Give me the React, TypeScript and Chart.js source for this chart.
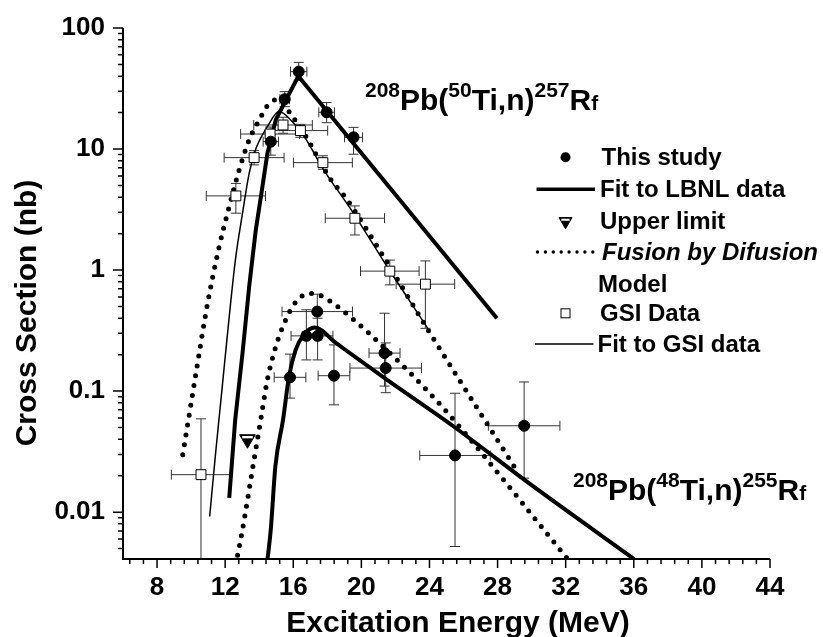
import React, { useEffect, useRef } from 'react';
import { Chart, registerables } from 'chart.js';

Chart.register(...registerables);

const FONT = '"Liberation Sans", Arial, Helvetica, sans-serif';

// ---------- This study (LBNL) : filled circles ----------
const studyX = [14.68, 15.5, 16.32, 17.96, 19.54, 15.81, 16.77, 17.43, 17.41, 18.39, 21.36, 21.43, 25.5, 29.56];
const studyY = [11.5, 25.8, 43.6, 20.1, 12.5, 0.13, 0.286, 0.286, 0.454, 0.134, 0.206, 0.155, 0.0294, 0.0517];
const studyXErr = [0.45, 0.28, 0.48, 0.46, 0.53, 0.93, 0.9, 0.9, 2.07, 0.93, 0.91, 2.1, 2.07, 2.1];
const studyYLow = [8.9, 22.4, 37, 16.5, 9.06, 0.0875, 0.181, 0.181, 0.3, 0.077, 0.11, 0.097, 0.0052, 0.0191];
const studyYHigh = [13.1, 29.8, 52, 24.2, 15.1, 0.202, 0.47, 0.4, 0.632, 0.241, 0.44, 0.25, 0.096, 0.119];

// ---------- Upper limit ----------
const upperLimitX = [13.31];
const upperLimitY = [0.04];

// ---------- GSI data : open squares ----------
const gsiX = [10.58, 12.63, 13.7, 14.64, 15.4, 16.42, 17.74, 19.62, 21.67, 23.76];
const gsiY = [0.0204, 4.1, 8.49, 13.3, 15.8, 14.2, 7.72, 2.68, 0.98, 0.765];
const gsiXErr = [1.74, 1.74, 1.76, 1.73, 1.72, 1.6, 1.73, 1.74, 1.72, 1.72];
const gsiYLow = [0.003, 2.95, 7.4, 11.6, 13.5, 12.5, 6.8, 1.95, 0.755, 0.33];
const gsiYHigh = [0.059, 5.2, 9.7, 15.2, 18.3, 16, 8.8, 3.39, 1.21, 1.19];

// ---------- Fit to LBNL data, 208Pb(50Ti,n)257Rf ----------
const lbnl50X = [12.24, 12.59, 13.02, 13.41, 13.8, 14.19, 14.48, 14.97, 15.52, 16.3, 27.96];
const lbnl50Y = [0.0131, 0.058, 0.206, 0.73, 2.15, 4.9, 9.2, 17.4, 24.6, 40, 0.4];

// ---------- Fit to LBNL data, 208Pb(48Ti,n)255Rf ----------
const lbnl48X = [14.49, 14.68, 14.95, 15.4, 15.75, 16.14, 16.6, 17.26, 18.5, 21.43, 25.42, 30, 36.02];
const lbnl48Y = [0.0041, 0.0072, 0.024, 0.058, 0.132, 0.219, 0.29, 0.335, 0.25, 0.126, 0.051, 0.0167, 0.0041];

// ---------- Fit to GSI data ----------
const gsiFitX = [11.09, 11.44, 11.83, 12.22, 12.6, 13.02, 13.41, 13.8, 14.48, 15.16, 15.85, 16.63, 17.74, 19.5, 21.51, 23.9];
const gsiFitY = [0.0092, 0.0308, 0.109, 0.388, 1.21, 2.95, 6.3, 10, 15.3, 20.4, 17.4, 12.8, 6.9, 3.0, 1.07, 0.33];

// ---------- Fusion by Diffusion model, 50Ti ----------
const fbd50X = [9.51, 10.19, 10.97, 11.65, 12.24, 12.82, 13.41, 14.0, 14.5, 15.0, 15.45, 15.84, 16.52, 17.36, 18.09, 19.17, 21.12, 23.86, 29.22];
const fbd50Y = [0.0298, 0.116, 0.533, 1.56, 3.35, 6.7, 11.9, 17.4, 23, 25.5, 23.6, 19.5, 14.4, 8.9, 5.9, 3.8, 1.42, 0.33, 0.021];

// ---------- Fusion by Diffusion model, 48Ti ----------
const fbd48X = [12.73, 13.02, 13.6, 14.09, 14.48, 14.97, 15.56, 16.1, 16.92, 17.41, 17.8, 18.68, 19.56, 20.44, 22.29, 23.07, 24.83, 26.59, 32.05];
const fbd48Y = [0.0044, 0.0072, 0.0224, 0.058, 0.124, 0.233, 0.388, 0.533, 0.64, 0.63, 0.597, 0.49, 0.388, 0.301, 0.17, 0.132, 0.072, 0.037, 0.0042];

// ---------- Axes ----------
const xMin = 6;
const xMax = 44;
const xMajorTicks = [8, 12, 16, 20, 24, 28, 32, 36, 40, 44];
const yMin = 0.0041;
const yMax = 100;
const yMajorTicks = [0.01, 0.1, 1, 10, 100];
const yTickLabels = ['0.01', '0.1', '1', '10', '100'];

const xTitle = 'Excitation Energy (MeV)';
const yTitle = 'Cross Section (nb)';

const reaction50 = ['208', 'Pb(', '50', 'Ti,n)', '257', 'R', 'f'];
const reaction48 = ['208', 'Pb(', '48', 'Ti,n)', '255', 'R', 'f'];
const reactionKinds = ['sup', 'main', 'sup', 'main', 'sup', 'main', 'small'];

const legendLabels = ['This study', 'Fit to LBNL data', 'Upper limit', 'Fusion by Difusion', 'Model', 'GSI Data', 'Fit to GSI data'];

function buildXTicks(): number[] {
  const out: number[] = [];
  for (let k = 32; k <= 220; k += 4) out.push(k / 5);
  return out;
}
function buildYTicks(): number[] {
  const out: number[] = [];
  for (let e = -3; e <= 2; e++) {
    for (let m = 1; m <= 9; m++) {
      const v = parseFloat((m * Math.pow(10, e)).toPrecision(6));
      if (v >= yMin && v <= yMax) out.push(v);
    }
  }
  return out;
}
const isXMajor = (v: number) => xMajorTicks.some((t) => Math.abs(t - v) < 1e-6);
const yMajorIndex = (v: number) => yMajorTicks.findIndex((t) => Math.abs(Math.log10(t) - Math.log10(v)) < 1e-6);

const pts = (xs: number[], ys: number[]) => xs.map((x, i) => ({ x, y: ys[i] }));

function drawRich(ctx: CanvasRenderingContext2D, x: number, y: number, texts: string[]) {
  let cx = x;
  texts.forEach((t, i) => {
    const kind = reactionKinds[i];
    const size = kind === 'main' ? 30 : 21;
    const dy = kind === 'sup' ? -13 : 0;
    ctx.font = `bold ${size}px ${FONT}`;
    ctx.fillText(t, cx, y + dy);
    cx += ctx.measureText(t).width;
  });
}

const overlayPlugin = {
  id: 'overlay',
  beforeDatasetsDraw(chart: any) {
    const { ctx, chartArea: a, scales } = chart;
    const xs = scales.x;
    const ys = scales.y;
    ctx.save();
    ctx.beginPath();
    ctx.rect(a.left, a.top, a.right - a.left, a.bottom - a.top);
    ctx.clip();
    ctx.strokeStyle = '#333';
    ctx.lineWidth = 1;
    const bars = (X: number[], Y: number[], XE: number[], YL: number[], YH: number[]) => {
      for (let i = 0; i < X.length; i++) {
        const px = xs.getPixelForValue(X[i]);
        const py = ys.getPixelForValue(Y[i]);
        const pl = xs.getPixelForValue(X[i] - XE[i]);
        const pr = xs.getPixelForValue(X[i] + XE[i]);
        const pt = ys.getPixelForValue(YH[i]);
        const pb = ys.getPixelForValue(YL[i]);
        ctx.beginPath();
        ctx.moveTo(pl, py); ctx.lineTo(pr, py);
        ctx.moveTo(pl, py - 5); ctx.lineTo(pl, py + 5);
        ctx.moveTo(pr, py - 5); ctx.lineTo(pr, py + 5);
        ctx.moveTo(px, pt); ctx.lineTo(px, pb);
        ctx.moveTo(px - 5, pt); ctx.lineTo(px + 5, pt);
        ctx.moveTo(px - 5, pb); ctx.lineTo(px + 5, pb);
        ctx.stroke();
      }
    };
    bars(studyX, studyY, studyXErr, studyYLow, studyYHigh);
    bars(gsiX, gsiY, gsiXErr, gsiYLow, gsiYHigh);
    ctx.restore();
  },
  afterDatasetsDraw(chart: any) {
    const { ctx, scales } = chart;
    const px = scales.x.getPixelForValue(upperLimitX[0]);
    const py = scales.y.getPixelForValue(upperLimitY[0]);
    const r = 9;
    ctx.save();
    ctx.strokeStyle = '#fff';
    ctx.lineWidth = 2.4;
    ctx.beginPath();
    ctx.moveTo(px - 5.3, py - 0.5 * r + 2.4);
    ctx.lineTo(px + 5.3, py - 0.5 * r + 2.4);
    ctx.stroke();
    ctx.restore();
  },
  afterDraw(chart: any) {
    const { ctx, chartArea: a, scales } = chart;
    const xs = scales.x;
    const ys = scales.y;
    ctx.save();
    // axis lines
    ctx.strokeStyle = '#000';
    ctx.lineWidth = 2;
    ctx.beginPath();
    ctx.moveTo(a.left, a.top);
    ctx.lineTo(a.left, a.bottom + 1);
    ctx.moveTo(a.left - 1, a.bottom);
    ctx.lineTo(a.right, a.bottom);
    ctx.stroke();
    // ticks
    ctx.lineWidth = 1.5;
    ctx.beginPath();
    xs.ticks.forEach((t: any) => {
      const p = xs.getPixelForValue(t.value);
      const len = isXMajor(t.value) ? 9 : 5;
      ctx.moveTo(p, a.bottom);
      ctx.lineTo(p, a.bottom + len);
    });
    ys.ticks.forEach((t: any) => {
      const p = ys.getPixelForValue(t.value);
      const len = yMajorIndex(t.value) >= 0 ? 10 : 5;
      ctx.moveTo(a.left, p);
      ctx.lineTo(a.left - len, p);
    });
    ctx.stroke();

    ctx.fillStyle = '#000';
    // axis titles
    ctx.font = `bold 30px ${FONT}`;
    ctx.textAlign = 'center';
    ctx.textBaseline = 'alphabetic';
    ctx.fillText(xTitle, 458, 632);
    ctx.save();
    ctx.translate(35.5, 313);
    ctx.rotate(-Math.PI / 2);
    ctx.fillText(yTitle, 0, 0);
    ctx.restore();

    // reaction labels
    ctx.textAlign = 'left';
    drawRich(ctx, 365, 110, reaction50);
    drawRich(ctx, 573, 500, reaction48);

    // legend
    const lx = 565.5;
    const rows = [157.3, 189.3, 221.3, 252, 284, 313.3, 344];
    ctx.textBaseline = 'middle';
    ctx.beginPath();
    ctx.arc(lx, rows[0], 5, 0, Math.PI * 2);
    ctx.fill();
    ctx.lineWidth = 3.5;
    ctx.beginPath();
    ctx.moveTo(536.5, rows[1]);
    ctx.lineTo(595, rows[1]);
    ctx.stroke();
    const tr = 7.5;
    ctx.beginPath();
    ctx.moveTo(lx, rows[2] + tr);
    ctx.lineTo(lx - 0.866 * tr, rows[2] - 0.5 * tr);
    ctx.lineTo(lx + 0.866 * tr, rows[2] - 0.5 * tr);
    ctx.closePath();
    ctx.fill();
    ctx.lineWidth = 1;
    ctx.stroke();
    ctx.strokeStyle = '#fff';
    ctx.lineWidth = 2;
    ctx.beginPath();
    ctx.moveTo(lx - 4.2, rows[2] - 0.5 * tr + 2.2);
    ctx.lineTo(lx + 4.2, rows[2] - 0.5 * tr + 2.2);
    ctx.stroke();
    ctx.strokeStyle = '#000';
    ctx.lineWidth = 3.4;
    ctx.lineCap = 'round';
    ctx.setLineDash([0, 7.9]);
    ctx.beginPath();
    ctx.moveTo(537.5, rows[3]);
    ctx.lineTo(593, rows[3]);
    ctx.stroke();
    ctx.setLineDash([]);
    ctx.lineCap = 'butt';
    ctx.lineWidth = 1;
    ctx.fillStyle = '#fff';
    ctx.fillRect(lx - 4.5, rows[5] - 4.5, 9, 9);
    ctx.strokeRect(lx - 4.5, rows[5] - 4.5, 9, 9);
    ctx.fillStyle = '#000';
    ctx.lineWidth = 1.5;
    ctx.beginPath();
    ctx.moveTo(535, rows[6]);
    ctx.lineTo(593.5, rows[6]);
    ctx.stroke();

    const textX = [601.5, 600, 600, 602, 598, 600, 597.5];
    legendLabels.forEach((lab, i) => {
      ctx.font = i === 3 ? `italic bold 24px ${FONT}` : `bold 24px ${FONT}`;
      ctx.fillText(lab, textX[i], rows[i] + 1);
    });
    ctx.restore();
  },
};

export default function App() {
  const ref = useRef<HTMLCanvasElement>(null);
  useEffect(() => {
    const xTicks = buildXTicks();
    const yTicks = buildYTicks();
    const lineBase = {
      showLine: true,
      borderColor: '#000',
      backgroundColor: '#000',
      pointRadius: 0,
      pointHoverRadius: 0,
      fill: false,
      borderJoinStyle: 'round',
    };
    const chart = new Chart(ref.current as HTMLCanvasElement, {
      type: 'scatter',
      data: {
        datasets: [
          {
            label: 'This study',
            data: pts(studyX, studyY),
            pointStyle: 'circle',
            pointRadius: 5.5,
            pointHoverRadius: 5.5,
            pointBackgroundColor: '#000',
            pointBorderColor: '#000',
            pointBorderWidth: 1,
          },
          {
            label: 'Upper limit',
            data: pts(upperLimitX, upperLimitY),
            pointStyle: 'triangle',
            pointRotation: 180,
            pointRadius: 9,
            pointHoverRadius: 9,
            pointBackgroundColor: '#000',
            pointBorderColor: '#000',
            pointBorderWidth: 1,
          },
          {
            label: 'GSI Data',
            data: pts(gsiX, gsiY),
            pointStyle: 'rect',
            pointRadius: 7,
            pointHoverRadius: 7,
            pointBackgroundColor: '#fff',
            pointBorderColor: '#000',
            pointBorderWidth: 1,
          },
          { ...lineBase, label: 'Fit to LBNL data 50Ti', data: pts(lbnl50X, lbnl50Y), borderWidth: 4, tension: 0 },
          { ...lineBase, label: 'Fit to LBNL data 48Ti', data: pts(lbnl48X, lbnl48Y), borderWidth: 4, cubicInterpolationMode: 'monotone' },
          { ...lineBase, label: 'Fit to GSI data', data: pts(gsiFitX, gsiFitY), borderWidth: 1.5, cubicInterpolationMode: 'monotone' },
          {
            ...lineBase,
            label: 'Fusion by Difusion 50Ti',
            data: pts(fbd50X, fbd50Y),
            borderWidth: 5,
            borderDash: [0, 10],
            borderCapStyle: 'round',
            cubicInterpolationMode: 'monotone',
          },
          {
            ...lineBase,
            label: 'Fusion by Difusion 48Ti',
            data: pts(fbd48X, fbd48Y),
            borderWidth: 5,
            borderDash: [0, 10],
            borderCapStyle: 'round',
            cubicInterpolationMode: 'monotone',
          },
        ] as any,
      },
      options: {
        responsive: false,
        animation: false,
        devicePixelRatio: 1,
        events: [],
        layout: { padding: { left: 0, top: 28, right: 53, bottom: 0 } },
        plugins: { legend: { display: false }, tooltip: { enabled: false } },
        scales: {
          x: {
            type: 'linear',
            min: xMin,
            max: xMax,
            bounds: 'data',
            grid: { display: false, drawTicks: false },
            border: { display: false },
            ticks: {
              autoSkip: false,
              maxRotation: 0,
              minRotation: 0,
              padding: 13,
              color: '#000',
              font: { family: FONT, size: 26, weight: 'bold' },
              callback: (v: any) => (isXMajor(Number(v)) ? String(Math.round(Number(v))) : ''),
            },
            afterBuildTicks: (s: any) => {
              s.ticks = xTicks.map((v) => ({ value: v }));
            },
            afterFit: (s: any) => {
              s.height = 78;
              s.paddingLeft = 0;
              s.paddingRight = 0;
            },
          },
          y: {
            type: 'logarithmic',
            min: yMin,
            max: yMax,
            bounds: 'data',
            grid: { display: false, drawTicks: false },
            border: { display: false },
            ticks: {
              autoSkip: false,
              padding: 18,
              color: '#000',
              font: { family: FONT, size: 26, weight: 'bold' },
              callback: (v: any) => {
                const i = yMajorIndex(Number(v));
                return i >= 0 ? yTickLabels[i] : '';
              },
            },
            afterBuildTicks: (s: any) => {
              s.ticks = yTicks.map((v) => ({ value: v }));
            },
            afterFit: (s: any) => {
              s.width = 123;
              s.paddingTop = 0;
              s.paddingBottom = 0;
            },
          },
        },
      } as any,
      plugins: [overlayPlugin],
    });
    return () => chart.destroy();
  }, []);
  return (
    <div style={{ position: 'absolute', left: 0, top: 0, width: 823, height: 637, background: '#fff' }}>
      <canvas ref={ref} width={823} height={637} style={{ display: 'block', width: 823, height: 637 }} />
    </div>
  );
}
